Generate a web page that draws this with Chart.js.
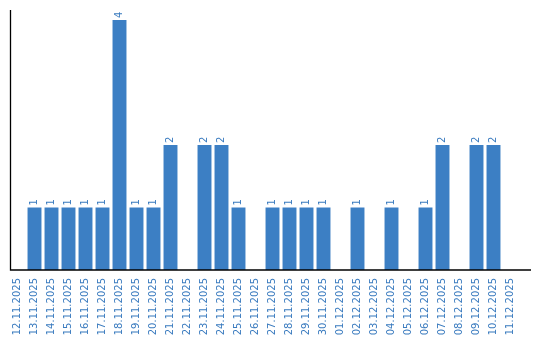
<!DOCTYPE html>
<html>
<head>
<meta charset="utf-8">
<script src="https://cdn.jsdelivr.net/npm/chart.js@4"></script>
<style>
  html, body { margin: 0; padding: 0; background: #fff; }
  #wrap { width: 540px; height: 340px; }
</style>
</head>
<body>
<div id="wrap"><canvas id="chart"></canvas></div>
<script>
const dates = [
  '12.11.2025', '13.11.2025', '14.11.2025', '15.11.2025', '16.11.2025',
  '17.11.2025', '18.11.2025', '19.11.2025', '20.11.2025', '21.11.2025',
  '22.11.2025', '23.11.2025', '24.11.2025', '25.11.2025', '26.11.2025',
  '27.11.2025', '28.11.2025', '29.11.2025', '30.11.2025', '01.12.2025',
  '02.12.2025', '03.12.2025', '04.12.2025', '05.12.2025', '06.12.2025',
  '07.12.2025', '08.12.2025', '09.12.2025', '10.12.2025', '11.12.2025',
];
const counts = [
  0, 1, 1, 1, 1, 1, 4, 1, 1, 2,
  0, 2, 2, 1, 0, 1, 1, 1, 1, 0,
  1, 0, 1, 0, 1, 2, 0, 2, 2, 0,
];

const blue = '#3c7fc4';
const textBlue = '#3a7bbf';

// axis lines + rotated value labels on top of bars
const decorations = {
  id: 'decorations',
  afterDatasetsDraw(chart) {
    const { ctx, chartArea } = chart;
    ctx.save();
    ctx.strokeStyle = '#000';
    ctx.lineWidth = 1.3;
    ctx.beginPath();
    ctx.moveTo(chartArea.left + 1.5, chartArea.top);
    ctx.lineTo(chartArea.left + 1.5, chartArea.bottom);
    ctx.lineTo(chartArea.right + 12, chartArea.bottom);
    ctx.stroke();

    const meta = chart.getDatasetMeta(0);
    ctx.fillStyle = textBlue;
    ctx.font = '10px "DejaVu Sans"';
    ctx.textAlign = 'left';
    ctx.textBaseline = 'middle';
    meta.data.forEach((bar, i) => {
      if (!counts[i]) return;
      ctx.save();
      ctx.translate(bar.x, bar.y - 2);
      ctx.rotate(-Math.PI / 2);
      ctx.fillText(String(counts[i]), 0, 0);
      ctx.restore();
    });
    ctx.restore();
  },
};

new Chart(document.getElementById('chart'), {
  type: 'bar',
  data: {
    labels: dates,
    datasets: [{
      data: counts,
      backgroundColor: blue,
      barPercentage: 0.82,
      categoryPercentage: 1,
    }],
  },
  options: {
    responsive: true,
    maintainAspectRatio: false,
    animation: false,
    layout: { padding: { left: 9, right: 21, top: 10, bottom: 0 } },
    plugins: {
      legend: { display: false },
      tooltip: { enabled: false },
    },
    scales: {
      x: {
        grid: { display: false },
        border: { display: false },
        ticks: {
          color: textBlue,
          font: { family: 'DejaVu Sans', size: 10 },
          minRotation: 90,
          maxRotation: 90,
          autoSkip: false,
          padding: 0,
        },
        afterFit(scale) { scale.height = 70; },
      },
      y: {
        display: false,
        min: 0,
        max: 4.16,
      },
    },
  },
  plugins: [decorations],
});
</script>
</body>
</html>
